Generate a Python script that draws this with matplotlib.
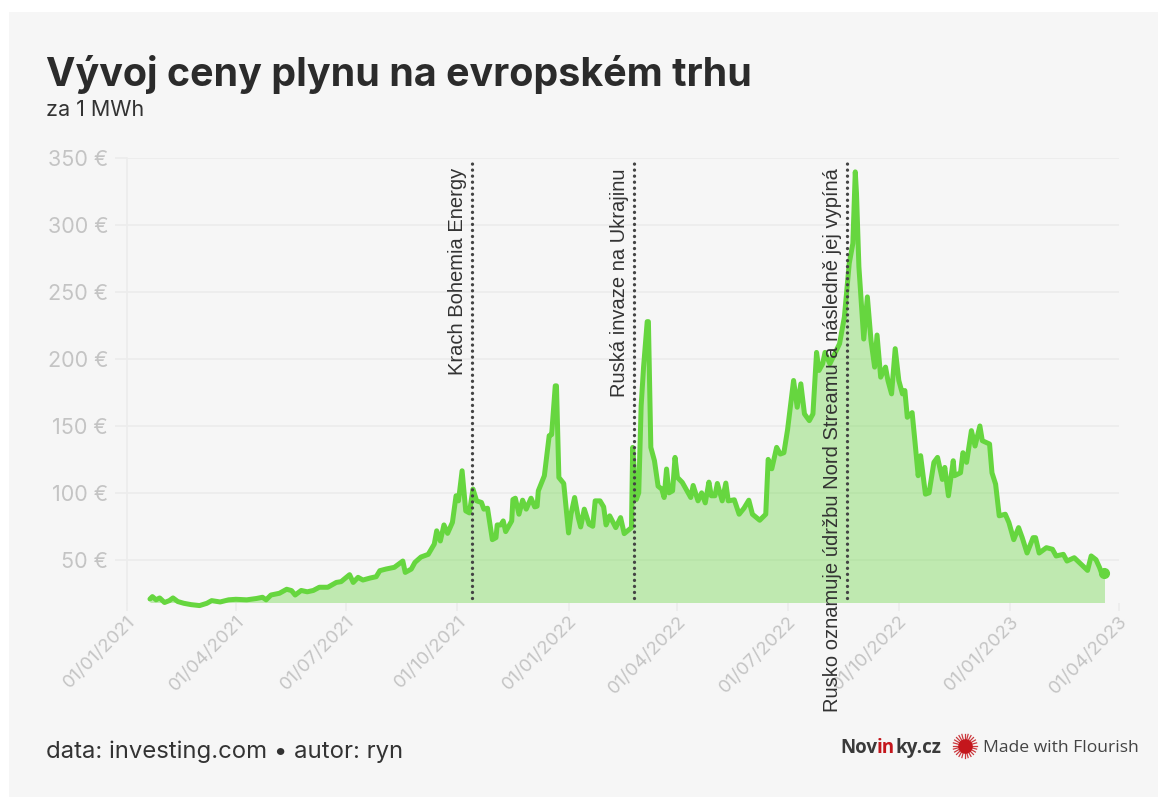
import numpy as np
import matplotlib
matplotlib.use("Agg")
import matplotlib.pyplot as plt
import matplotlib.dates as mdates
from matplotlib.patches import Rectangle
from datetime import datetime

# dny od 01/01/2021 a cena v EUR za MWh
dny = [19, 21, 24, 27, 31, 35, 38, 42, 47, 53, 60, 66, 70, 77, 84, 90, 99, 107, 112, 115,
       119, 126, 132, 136, 139, 144, 149, 154, 159, 166, 173, 177, 184, 187, 191, 195, 201, 206, 209, 214,
       221, 228, 230, 235, 238, 243, 249, 254, 256, 259, 262, 265, 269, 272, 274, 277, 280, 283, 286, 289,
       293, 295, 298, 302, 305, 306, 309, 311, 313, 318, 319, 321, 324, 327, 330, 334, 337, 339, 340, 345,
       349, 351, 354, 355, 357, 361, 365, 367, 370, 373, 375, 378, 382, 385, 387, 391, 394, 396, 399, 404,
       408, 411, 417, 418, 421, 423, 425, 427, 430, 431, 433, 436, 439, 442, 444, 446, 448, 451, 453, 455,
       459, 466, 468, 472, 475, 478, 481, 483, 486, 488, 492, 495, 497, 502, 506, 510, 514, 517, 523, 528,
       530, 533, 537, 540, 543, 546, 551, 554, 557, 560, 564, 567, 570, 572, 575, 577, 581, 585, 589, 593,
       597, 600, 602, 603, 605, 607, 609, 612, 615, 618, 620, 623, 627, 629, 632, 635, 638, 641, 643, 645,
       649, 651, 654, 656, 660, 663, 667, 670, 674, 676, 679, 683, 684, 689, 691, 694, 698, 701, 705, 707,
       713, 715, 718, 721, 726, 729, 733, 737, 740, 744, 749, 751, 754, 760, 765, 768, 774, 777, 783, 794,
       797, 801, 804, 806, 808]
ceny = [20.6, 22.4, 20, 21.4, 18, 19.4, 21.4, 18.7, 17.4, 16.4, 15.7, 17.4, 19.4, 18.4, 20, 20.4, 20, 21, 21.9, 20,
        23.6, 24.9, 27.9, 26.9, 23.6, 27, 26, 27, 29.4, 29.4, 33, 33.6, 38.8, 33, 36.8, 34.8, 36.3, 37.3, 41.8, 43,
        44.3, 49, 40.5, 43, 48, 52, 54, 61.7, 71.6, 64, 76, 69.7, 77.9, 97.8, 94, 116.5, 86.5, 85, 102.8, 94,
        92.8, 87.8, 88.5, 65, 66.5, 76, 76, 79, 71, 79, 95, 96, 84, 94.5, 87.8, 96, 89.5, 90, 101.5, 112.8,
        142.8, 143.5, 180, 180, 111.5, 107, 70, 84, 96.5, 81.5, 74.5, 87.8, 76.5, 75, 94, 94, 89.5, 76, 82.8, 74,
        81.5, 69.5, 74, 134, 95, 100, 165, 194, 228, 228, 134, 124, 105, 102.8, 96.5, 117.8, 100, 101.5, 126.5, 111.5,
        107.8, 96.5, 105.5, 94, 100, 92.5, 108, 97.8, 97.8, 107, 94, 107.3, 94, 94.8, 84, 88.5, 94.5, 84, 79.5, 84,
        125, 118, 134, 129, 130, 147, 184, 164, 181.5, 159, 154, 159, 205, 191.5, 196.5, 205, 196.5, 204, 211.5, 231.5,
        271.5, 286.5, 340, 324, 269, 241.5, 215, 246.5, 214, 194, 218, 186.5, 194, 184, 174, 207.8, 184, 174, 176.5, 156.5,
        160, 141.5, 112.8, 127.8, 99, 100, 122.8, 126.5, 110, 119, 97.8, 124, 112.8, 115, 130, 122.8, 146.5, 135, 150, 139,
        136.5, 115, 106.5, 82.8, 84, 77.8, 65, 74, 66.5, 55, 66.5, 66.5, 55, 59, 57.8, 52.8, 54, 49, 51.5, 42,
        52.8, 50, 44, 39, 40]

y_ticks = [50, 100, 150, 200, 250, 300, 350]
x_ticks = ["2021-01-01", "2021-04-01", "2021-07-01", "2021-10-01", "2022-01-01",
           "2022-04-01", "2022-07-01", "2022-10-01", "2023-01-01", "2023-04-01"]
udalosti = ["2021-10-13", "2022-02-24", "2022-08-19"]
popisky = ["Krach Bohemia Energy", "Ruská invaze na Ukrajinu",
           "Rusko oznamuje údržbu Nord Streamu a následně jej vypíná"]

W, H = 1158, 797
PANEL = "#f6f6f6"
ZELENA = "#66d63f"
TMAVA = "#333333"
SEDA = "#c4c4c4"
MRIZKA = "#ececec"

datumy = np.datetime64("2021-01-01") + np.array(dny).astype("timedelta64[D]")
datumy = datumy.astype("datetime64[D]").astype(object)
tick_datumy = [datetime.strptime(d, "%Y-%m-%d") for d in x_ticks]


def text_px(x, y, s, **kw):
    # pozice v pixelech obrazku, pocatek vlevo nahore
    return fig.text(x / W, 1 - y / H, s, **kw)


fig = plt.figure(figsize=(W / 100, H / 100), dpi=100, facecolor="white")
fig.add_artist(Rectangle((9 / W, 0), 1 - 9 / W, 1 - 12 / H, transform=fig.transFigure,
                         facecolor=PANEL, edgecolor="none", zorder=-10))

ax = fig.add_axes([127 / W, 1 - 602.5 / H, 992 / W, 444 / H])
ax.patch.set_alpha(0)
ax.set_xlim(datetime(2021, 1, 1), datetime(2023, 4, 1))
ax.set_ylim(18, 350)

ax.fill_between(datumy, ceny, 18, color=ZELENA, alpha=0.38, linewidth=0, zorder=2)
ax.plot(datumy, ceny, color=ZELENA, linewidth=3.6, solid_joinstyle="round",
        solid_capstyle="round", clip_on=False, zorder=3)
ax.plot(datumy[-1], ceny[-1], "o", color=ZELENA, markersize=7, zorder=3)

for d, popis in zip(udalosti, popisky):
    den = datetime.strptime(d, "%Y-%m-%d")
    ax.plot([den, den], [21, 350], color="#444444", linewidth=2.4,
            dashes=(0.01, 1.8), dash_capstyle="round", zorder=4)
    ax.annotate(popis, xy=(den, 350), xycoords="data", xytext=(-10, -7), textcoords="offset points",
                rotation=90, ha="center", va="top", fontsize=14.5, color=TMAVA,
                family="Liberation Sans", annotation_clip=False, zorder=5)

ax.set_yticks(y_ticks)
ax.set_yticklabels([f"{v} €" for v in y_ticks], fontsize=15.5, color=SEDA, family="Inter")
ax.set_xticks(tick_datumy)
ax.set_xticklabels([d.strftime("%d/%m/%Y") for d in tick_datumy], rotation=45, ha="right",
                   rotation_mode="anchor", fontsize=13.4, color=SEDA, family="Inter")
ax.xaxis.set_major_locator(matplotlib.ticker.FixedLocator(mdates.date2num(tick_datumy)))
ax.tick_params(axis="y", length=8.5, width=1.2, color=MRIZKA, pad=5)
ax.tick_params(axis="x", length=5.8, width=1.2, color=MRIZKA, pad=1.5)
ax.grid(axis="y", color=MRIZKA, linewidth=1.2, zorder=0)
ax.set_axisbelow(True)
for strana in ["top", "right", "bottom"]:
    ax.spines[strana].set_visible(False)
ax.spines["left"].set_color(MRIZKA)
ax.spines["left"].set_linewidth(1.2)

text_px(46, 86, "Vývoj ceny plynu na evropském trhu", fontsize=28.4, fontweight="bold",
        color="#2b2b2b", family="Inter")
text_px(46, 116, "za 1 MWh", fontsize=15.5, color=TMAVA, family="Inter")
text_px(46, 758, "data: investing.com • autor: ryn", fontsize=17.2, color=TMAVA, family="Inter")

# logo Novinky.cz poskladane ze tri kusu textu
x = 840
rend = fig.canvas.get_renderer()
for kus, barva in [("Nov", "#3a3a3a"), ("in", "#c4161c"), ("ky.cz", "#3a3a3a")]:
    t = text_px(x, 753, kus, fontsize=13.5, fontweight="bold", color=barva, family="Open Sans")
    x = t.get_window_extent(rend).x1

# logo Flourish
for uhel in np.arange(0, 360, 15):
    ux, uy = np.cos(np.radians(uhel)), np.sin(np.radians(uhel))
    fig.add_artist(plt.Line2D([(965 + 5 * ux) / W, (965 + 12 * ux) / W],
                              [1 - (746 + 5 * uy) / H, 1 - (746 + 12 * uy) / H],
                              color="#c4161c", linewidth=0.9, alpha=0.85))
fig.add_artist(plt.Line2D([965 / W], [1 - 746 / H], marker="o", markersize=10.5,
                          color="#c4161c", markeredgewidth=0))
text_px(983, 752, "Made with Flourish", fontsize=12.6, color="#444444", family="Open Sans")

fig.savefig("out.png", dpi=100, facecolor=fig.get_facecolor())
